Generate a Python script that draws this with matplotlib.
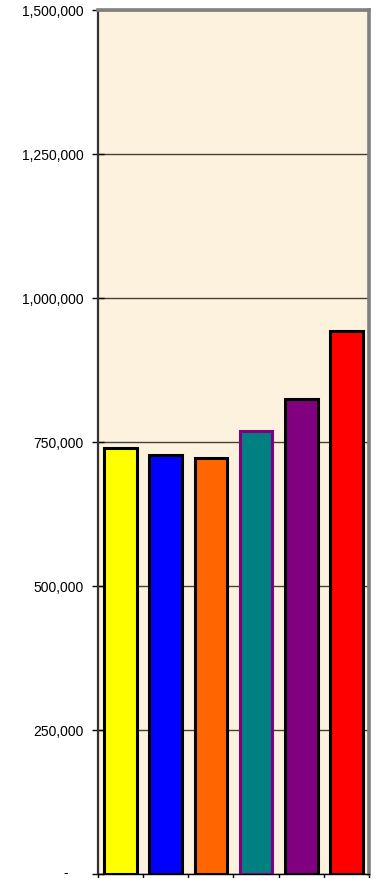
import numpy as np
import matplotlib
matplotlib.use("Agg")
import matplotlib.pyplot as plt
import matplotlib.transforms as mtransforms
from matplotlib.ticker import FixedLocator, FuncFormatter

# bar values
values = [739000, 727000, 722000, 769000, 824000, 942000]
fills = ["#FFFF00", "#0000FF", "#FF6600", "#008080", "#800080", "#FF0000"]
edges = ["#000000", "#000000", "#000000", "#800080", "#000000", "#000000"]
yticks = [0, 250000, 500000, 750000, 1000000, 1250000, 1500000]

plt.rcParams["font.family"] = ["Liberation Sans", "DejaVu Sans"]

fig = plt.figure(figsize=(3.75, 8.79), dpi=100)
ax = fig.add_axes([98 / 375, 4 / 879, 271 / 375, 864 / 879])
ax.set_facecolor("#FDF2DE")

x = np.arange(len(values))
ax.bar(x, values, width=0.72, color=fills, edgecolor=edges, linewidth=2.2, zorder=3)

ax.set_xlim(-0.5, len(values) - 0.5)
ax.set_ylim(0, 1500000)

ax.yaxis.set_major_locator(FixedLocator(yticks))
ax.yaxis.set_major_formatter(FuncFormatter(lambda v, p: "-" if v == 0 else f"{int(v):,}"))
ax.tick_params(axis="y", direction="inout", length=9, width=1, labelsize=10, pad=6)
ax.grid(axis="y", color="#4a3f38", linewidth=1.0, zorder=1)

ax.set_xticks([])
ax.xaxis.set_minor_locator(FixedLocator(np.arange(-0.5, len(values), 1.0)))
ax.tick_params(axis="x", which="minor", direction="out", length=4, width=1)

for side in ("top", "right"):
    ax.spines[side].set_color("#808080")
    ax.spines[side].set_linewidth(2.6)
ax.spines["left"].set_color("#333333")
ax.spines["left"].set_linewidth(1.6)
ax.spines["bottom"].set_color("#000000")
ax.spines["bottom"].set_linewidth(1.0)

# zero label sits further left and a touch higher, like the reference
fig.canvas.draw()
zero_lab = ax.get_yticklabels()[0]
shift = mtransforms.ScaledTranslation(-15 / 100, 3 / 100, fig.dpi_scale_trans)
zero_lab.set_transform(zero_lab.get_transform() + shift)

fig.savefig("out.png", dpi=100)
